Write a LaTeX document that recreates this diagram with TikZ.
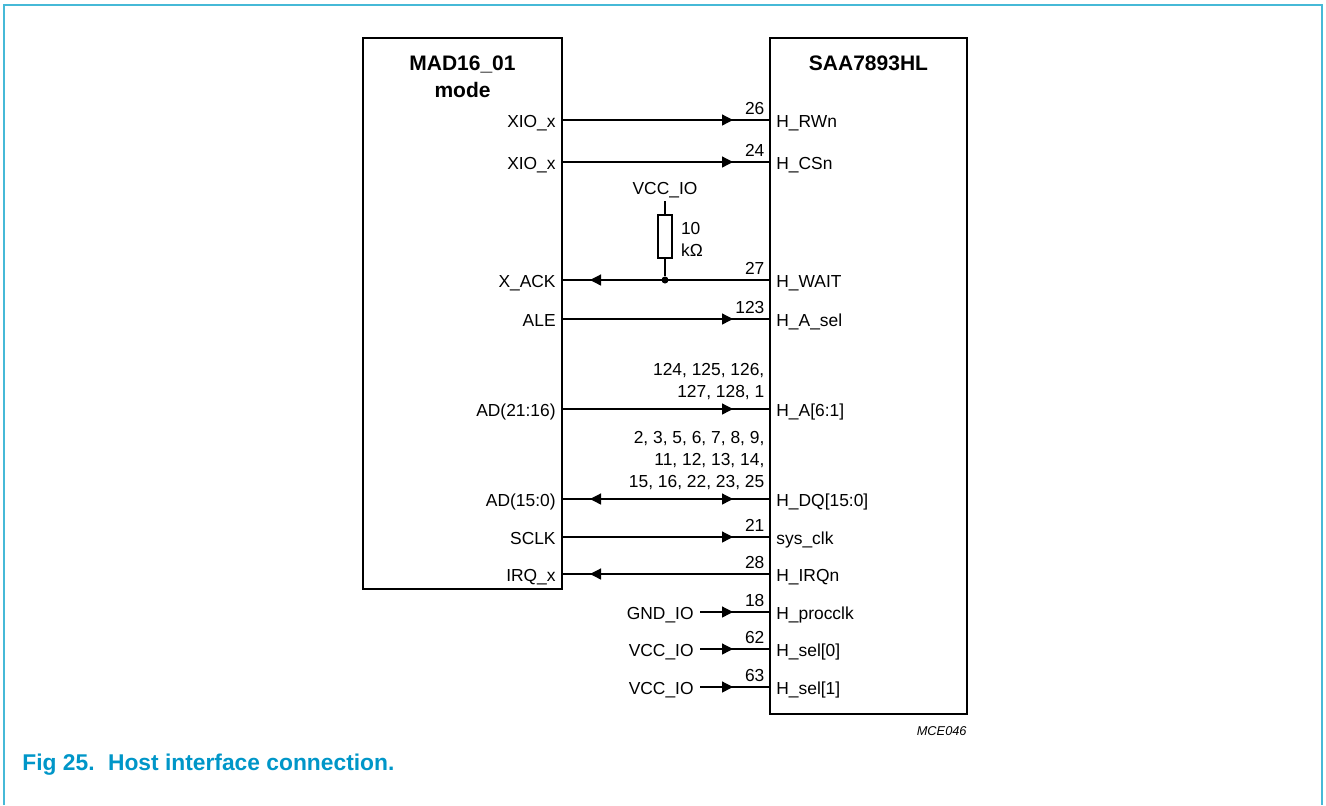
\documentclass[tikz,border=0pt]{standalone}
\usepackage{fontspec}
\setmainfont{Liberation Sans}
\usetikzlibrary{arrows.meta, decorations.markings}
\definecolor{framecyan}{RGB}{70,185,215}
\definecolor{figblue}{RGB}{0,150,200}
\newcommand\sigfont{\fontsize{8.7}{11}\selectfont}
\tikzset{
    x=0.5pt, y=-0.5pt,
    tipa/.tip={Triangle[length=5.5pt, width=5.5pt]},
    frame/.style={draw=framecyan, line width=1pt},
    chip/.style={draw, line width=1.4pt, inner sep=0pt},
    title/.style={font=\fontsize{10.5}{13.5}\selectfont\bfseries, inner sep=0pt},
    sig/.style={line width=0.65pt},
    lpin/.style={anchor=east, inner xsep=3pt, inner ysep=0pt, text height=.716em, text depth=0pt, font=\sigfont},
    rpin/.style={anchor=west, inner xsep=3pt, inner ysep=0pt, text height=.716em, text depth=0pt, font=\sigfont},
    pnum/.style={pos=1, anchor=south east, inner xsep=2.5pt, inner ysep=2.5pt, text depth=0pt, align=right, font=\sigfont},
    fwd/.style={postaction=decorate, decoration={markings,
        mark=at position -18.5pt with {\arrow{tipa}}}},
    bwd/.style={postaction=decorate, decoration={markings,
        mark=at position 14pt with {\arrowreversed{tipa}}}},
    fwdbwd/.style={postaction=decorate, decoration={markings,
        mark=at position 14pt with {\arrowreversed{tipa}},
        mark=at position -18.5pt with {\arrow{tipa}}}},
    dot/.style={circle, fill, inner sep=0pt, minimum size=3.5pt},
    resistor/.style={draw, line width=0.65pt, inner sep=0pt, minimum width=7pt, minimum height=21.5pt}
}
\begin{document}
\begin{tikzpicture}
    \useasboundingbox (0,0) rectangle (1326,805);
    \draw[frame] (4,805) -- (4,5) -- (1322,5) -- (1322,805);

    % the two chips
    \node[chip, minimum width=99.5pt, minimum height=275.5pt] (mad) at (462.5,313.5) {};
    \node[chip, minimum width=98.5pt, minimum height=338pt] (saa) at (868.5,376) {};
    \node[title, align=center] (madname) at (462.5,76.5) {MAD16\_01\\mode};
    \node[title] (saaname) at (868.5,63) {SAA7893HL};

    % host side
    \node[lpin] (xioa) at (562,120) {XIO\_x};
    \node[lpin] (xiob) at (562,162) {XIO\_x};
    \node[lpin] (xack) at (562,280) {X\_ACK};
    \node[lpin] (ale) at (562,319) {ALE};
    \node[lpin] (adh) at (562,409) {AD(21:16)};
    \node[lpin] (adl) at (562,499) {AD(15:0)};
    \node[lpin] (sclk) at (562,537) {SCLK};
    \node[lpin] (irq) at (562,574) {IRQ\_x};
    \node[lpin] (gnd) at (700,612) {GND\_IO};
    \node[lpin] (vcca) at (700,649) {VCC\_IO};
    \node[lpin] (vccb) at (700,687) {VCC\_IO};

    % decoder side
    \node[rpin] (hrwn) at (770,120) {H\_RWn};
    \node[rpin] (hcsn) at (770,162) {H\_CSn};
    \node[rpin] (hwait) at (770,280) {H\_WAIT};
    \node[rpin] (hasel) at (770,319) {H\_A\_sel};
    \node[rpin] (ha) at (770,409) {H\_A[6:1]};
    \node[rpin] (hdq) at (770,499) {H\_DQ[15:0]};
    \node[rpin] (sysclk) at (770,537) {sys\_clk};
    \node[rpin] (hirqn) at (770,574) {H\_IRQn};
    \node[rpin] (hproc) at (770,612) {H\_procclk};
    \node[rpin] (hsela) at (770,649) {H\_sel[0]};
    \node[rpin] (hselb) at (770,687) {H\_sel[1]};

    \draw[sig, fwd] (xioa.east) -- node[pnum] {26} (hrwn.west);
    \draw[sig, fwd] (xiob.east) -- node[pnum] {24} (hcsn.west);
    \draw[sig, bwd] (xack.east) -- node[pnum] {27} (hwait.west);
    \draw[sig, fwd] (ale.east) -- node[pnum] {123} (hasel.west);
    \draw[sig, fwd] (adh.east) -- node[pnum, yshift=3pt] {124, 125, 126,\\127, 128, 1} (ha.west);
    \draw[sig, fwdbwd] (adl.east) -- node[pnum, yshift=3pt] {2, 3, 5, 6, 7, 8, 9,\\11, 12, 13, 14,\\15, 16, 22, 23, 25} (hdq.west);
    \draw[sig, fwd] (sclk.east) -- node[pnum] {21} (sysclk.west);
    \draw[sig, bwd] (irq.east) -- node[pnum] {28} (hirqn.west);
    \draw[sig, fwd] (gnd.east) -- node[pnum] {18} (hproc.west);
    \draw[sig, fwd] (vcca.east) -- node[pnum] {62} (hsela.west);
    \draw[sig, fwd] (vccb.east) -- node[pnum] {63} (hselb.west);

    % pull-up on H_WAIT
    \node[font=\sigfont, inner xsep=0pt, inner ysep=3.3pt, text height=.716em, text depth=0pt] (vccr) at (665,187) {VCC\_IO};
    \node[resistor] (r1) at (665,236.5) {};
    \node[font=\sigfont, anchor=west, align=left, inner xsep=4pt] (r1val) at ([yshift=-1.5pt]r1.east) {10\\kΩ};
    \node[dot] (j1) at (665,280) {};
    \draw[sig] (vccr.south) -- (r1.north);
    \draw[sig] (r1.south) -- (j1);

    \node[anchor=east, inner sep=0pt, font=\fontsize{6.4}{7}\selectfont\itshape] (code) at (967,731) {MCE046};
    \node[anchor=west, inner sep=0pt, text height=.716em, text depth=0pt, text=figblue, font=\fontsize{11.4}{13}\selectfont\bfseries] (caption) at (22,763) {Fig 25.\hspace{2.5pt} Host interface connection.};
\end{tikzpicture}
\end{document}
